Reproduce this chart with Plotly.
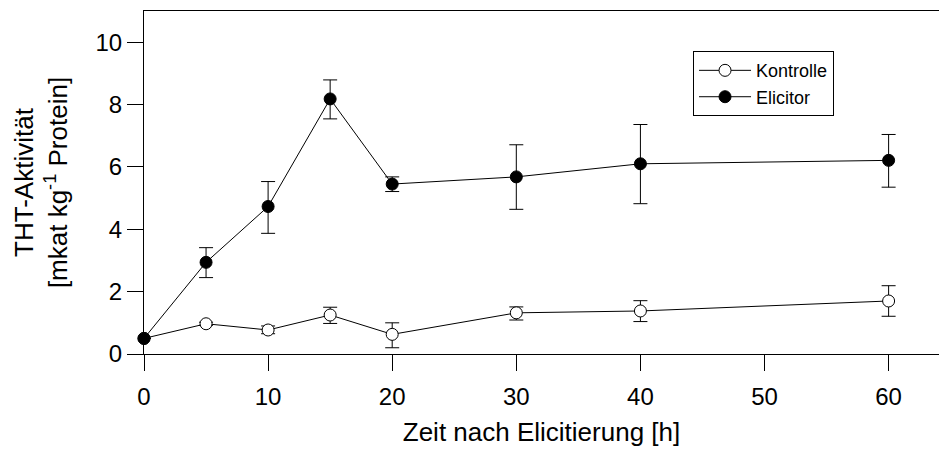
import plotly.graph_objects as go

time_h = [0, 5, 10, 15, 20, 30, 40, 60]

kontrolle = [0.50, 0.97, 0.77, 1.25, 0.63, 1.32, 1.38, 1.70]
kontrolle_err_plus = [0.0, 0.05, 0.13, 0.25, 0.37, 0.19, 0.33, 0.49]
kontrolle_err_minus = [0.0, 0.05, 0.12, 0.27, 0.43, 0.23, 0.34, 0.49]

elicitor = [0.50, 2.94, 4.73, 8.18, 5.45, 5.68, 6.10, 6.21]
elicitor_err_plus = [0.0, 0.47, 0.80, 0.61, 0.23, 1.03, 1.26, 0.83]
elicitor_err_minus = [0.0, 0.49, 0.86, 0.64, 0.24, 1.04, 1.28, 0.86]

x_ticks = [0, 10, 20, 30, 40, 50, 60]
y_ticks = [0, 2, 4, 6, 8, 10]

FONT = "Liberation Sans, Arial, sans-serif"

fig = go.Figure()

fig.add_trace(go.Scatter(
    x=time_h, y=kontrolle, name="Kontrolle", mode="lines+markers",
    line=dict(color="black", width=1),
    marker=dict(symbol="circle", size=12, color="white", line=dict(color="black", width=1)),
    error_y=dict(type="data", array=kontrolle_err_plus, arrayminus=kontrolle_err_minus,
                 symmetric=False, color="black", thickness=1, width=7),
    cliponaxis=False,
))

fig.add_trace(go.Scatter(
    x=time_h, y=elicitor, name="Elicitor", mode="lines+markers",
    line=dict(color="black", width=1),
    marker=dict(symbol="circle", size=12, color="black", line=dict(color="black", width=1)),
    error_y=dict(type="data", array=elicitor_err_plus, arrayminus=elicitor_err_minus,
                 symmetric=False, color="black", thickness=1, width=7),
    cliponaxis=False,
))

fig.update_layout(
    width=939, height=451,
    margin=dict(l=144, r=0, t=11, b=97, autoexpand=False),
    plot_bgcolor="white", paper_bgcolor="white",
    font=dict(family=FONT, color="black", size=24),
    showlegend=True,
    legend=dict(
        x=0.6906, y=0.883, xanchor="left", yanchor="top",
        bordercolor="black", borderwidth=1, bgcolor="white",
        font=dict(size=18, family=FONT, color="black"),
        itemwidth=52, tracegroupgap=0,
    ),
    xaxis=dict(
        range=[0, 64.06], tickvals=x_ticks, ticktext=[str(v) for v in x_ticks],
        showline=True, linecolor="black", linewidth=1, mirror=True,
        ticks="outside", ticklen=16, tickwidth=1, tickcolor="black",
        showgrid=False, zeroline=False, automargin=True,
        tickfont=dict(size=24, family=FONT), ticklabelstandoff=5,
        title=dict(text="Zeit nach Elicitierung [h]", font=dict(size=26, family=FONT), standoff=14),
    ),
    yaxis=dict(
        range=[0, 11], tickvals=y_ticks, ticktext=[str(v) for v in y_ticks],
        showline=True, linecolor="black", linewidth=1,
        ticks="outside", ticklen=16, tickwidth=1, tickcolor="black",
        showgrid=False, zeroline=False, automargin=True,
        tickfont=dict(size=24, family=FONT),
        title=dict(text="THT-Aktivität<br>[mkat kg<sup>-1</sup> Protein]",
                   font=dict(size=26, family=FONT), standoff=20),
    ),
)

fig.write_html("out.html", config={"displayModeBar": False},
               post_script="document.body.style.margin='0';")
